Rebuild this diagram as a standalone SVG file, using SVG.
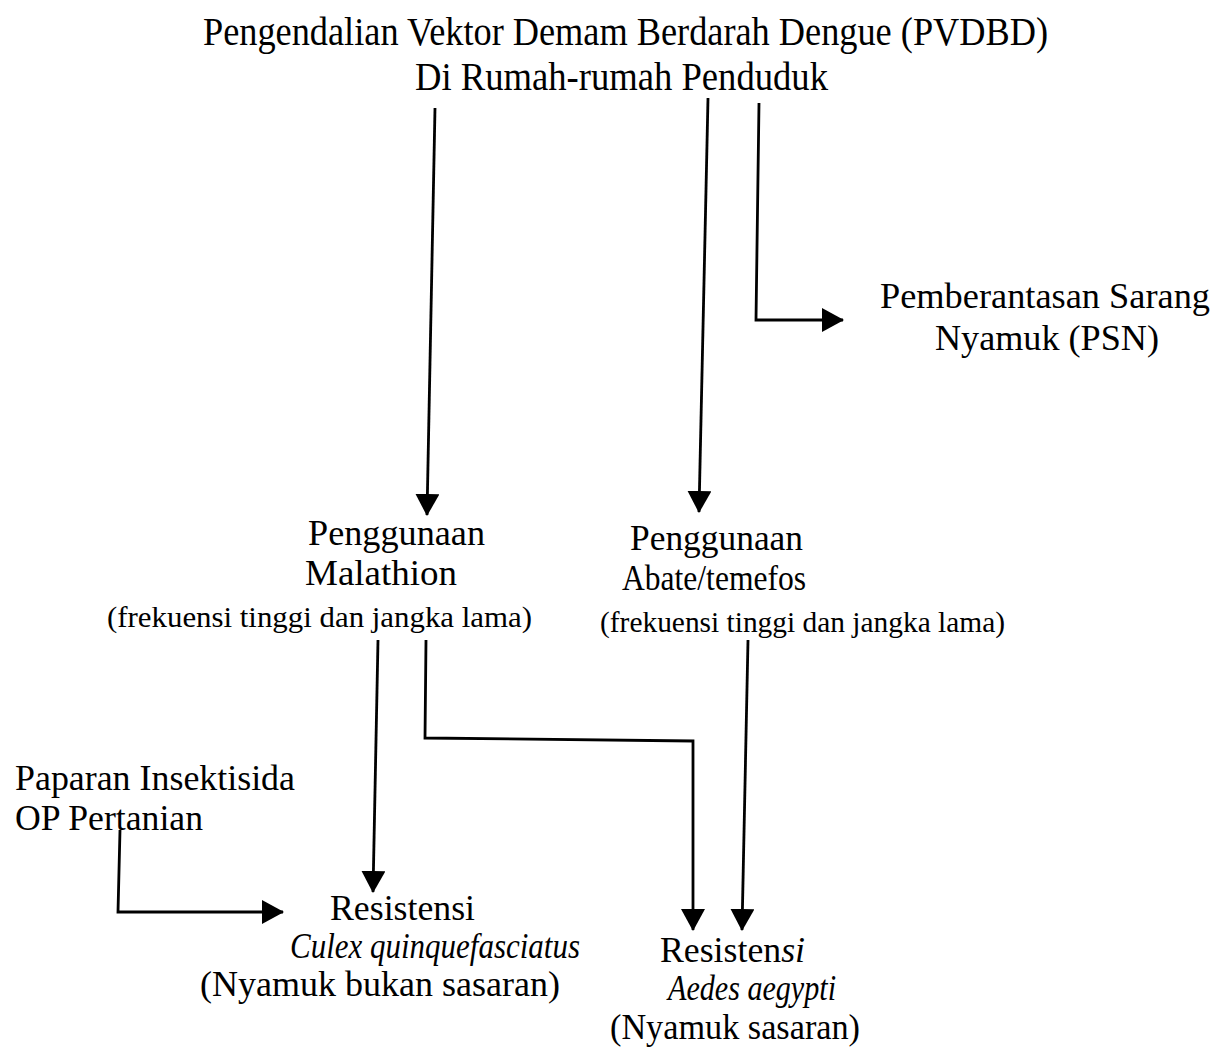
<svg xmlns="http://www.w3.org/2000/svg" width="1220" height="1055" viewBox="0 0 1220 1055">
<defs>
<marker id="ah" viewBox="0 0 22 24" refX="21" refY="12" markerWidth="22" markerHeight="24" markerUnits="userSpaceOnUse" orient="auto">
<path d="M0,0 L22,12 L0,24 Z" fill="#000"/>
</marker>
<style>
.t{font-family:"Liberation Serif","Times New Roman",serif;fill:#000}
.big{font-size:41px}
.mid{font-size:35px}
.sm{font-size:29px}
.it{font-style:italic}
.c{fill:none;stroke:#000;stroke-width:2.8;marker-end:url(#ah)}
</style>
</defs>
<rect width="1220" height="1055" fill="#fff"/>
<g id="pvdbd">
<text class="t big" x="203" y="45" textLength="845" lengthAdjust="spacingAndGlyphs">Pengendalian Vektor Demam Berdarah Dengue (PVDBD)</text>
<text class="t big" x="415" y="90" textLength="413" lengthAdjust="spacingAndGlyphs">Di Rumah-rumah Penduduk</text>
</g>
<g id="psn">
<text class="t mid" x="880" y="308" textLength="330" lengthAdjust="spacingAndGlyphs">Pemberantasan Sarang</text>
<text class="t mid" x="935" y="350" textLength="224" lengthAdjust="spacingAndGlyphs">Nyamuk (PSN)</text>
</g>
<g id="malathion">
<text class="t mid" x="308" y="545" textLength="177" lengthAdjust="spacingAndGlyphs">Penggunaan</text>
<text class="t mid" x="305" y="585" textLength="152" lengthAdjust="spacingAndGlyphs">Malathion</text>
<text class="t sm" x="107" y="627" textLength="425" lengthAdjust="spacingAndGlyphs">(frekuensi tinggi dan jangka lama)</text>
</g>
<g id="abate">
<text class="t mid" x="630" y="550" textLength="173" lengthAdjust="spacingAndGlyphs">Penggunaan</text>
<text class="t mid" x="622" y="590" textLength="184" lengthAdjust="spacingAndGlyphs">Abate/temefos</text>
<text class="t sm" x="600" y="632" textLength="405" lengthAdjust="spacingAndGlyphs">(frekuensi tinggi dan jangka lama)</text>
</g>
<g id="paparan">
<text class="t mid" x="15" y="790" textLength="280" lengthAdjust="spacingAndGlyphs">Paparan Insektisida</text>
<text class="t mid" x="15" y="830" textLength="188" lengthAdjust="spacingAndGlyphs">OP Pertanian</text>
</g>
<g id="culex">
<text class="t mid" x="330" y="920" textLength="145" lengthAdjust="spacingAndGlyphs">Resistensi</text>
<text class="t mid it" x="290" y="958" textLength="290" lengthAdjust="spacingAndGlyphs">Culex quinquefasciatus</text>
<text class="t mid" x="200" y="996" textLength="360" lengthAdjust="spacingAndGlyphs">(Nyamuk bukan sasaran)</text>
</g>
<g id="aedes">
<text class="t mid" x="660" y="962" textLength="145" lengthAdjust="spacingAndGlyphs">Resisten<tspan class="it">si</tspan></text>
<text class="t mid it" x="668" y="1000" textLength="168" lengthAdjust="spacingAndGlyphs">Aedes aegypti</text>
<text class="t mid" x="610" y="1039" textLength="250" lengthAdjust="spacingAndGlyphs">(Nyamuk sasaran)</text>
</g>
<g id="connectors">
<path class="c" d="M435,108 L427,515"/>
<path class="c" d="M708,98 L699,512"/>
<path class="c" d="M759,103 L756,320 L843,320"/>
<path class="c" d="M378,640 L373,892"/>
<path class="c" d="M426,640 L425,738 L693,741 L693,930"/>
<path class="c" d="M748,640 L742,930"/>
<path class="c" d="M120,830 L118,912 L283,912"/>
</g>
</svg>
